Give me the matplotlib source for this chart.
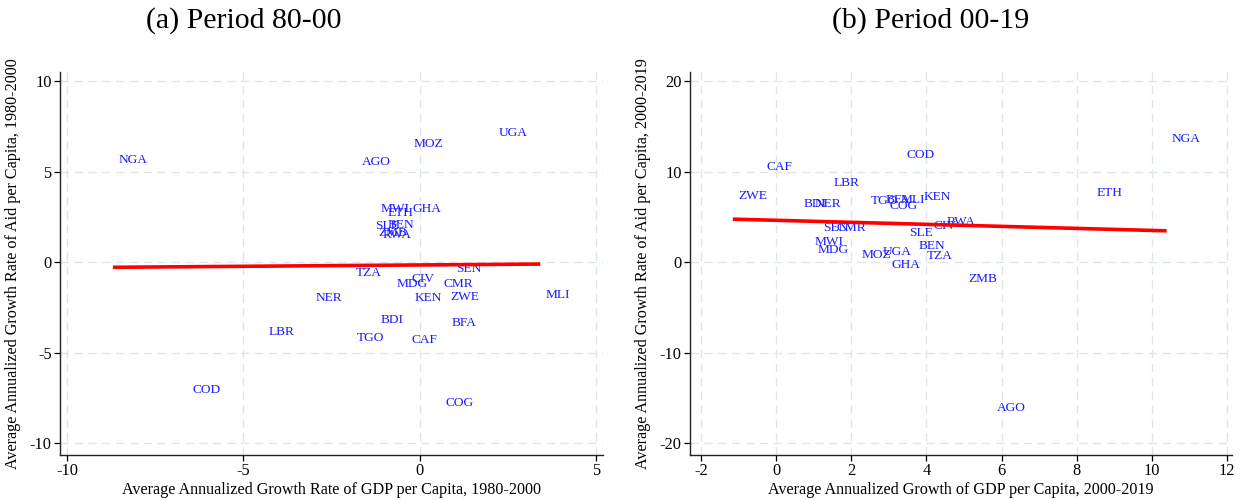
import matplotlib
matplotlib.use("Agg")
import matplotlib.pyplot as plt

plt.rcParams['font.family'] = ['Liberation Serif', 'DejaVu Serif']

# ---- Panel (a) Period 80-00 ----
a_countries = ["NGA", "AGO", "MOZ", "UGA", "MWI", "ETH", "GHA", "SLE", "BEN", "ZMB",
               "RWA", "TZA", "SEN", "CIV", "MDG", "CMR", "NER", "KEN", "ZWE", "MLI",
               "BDI", "LBR", "BFA", "TGO", "CAF", "COD", "COG"]
a_gdp = [-8.70, -1.78, -0.31, 2.10, -1.25, -1.05, -0.34, -1.42, -1.05, -1.33,
         -1.19, -1.95, 0.88, -0.37, -0.79, 0.54, -3.09, -0.28, 0.71, 3.42,
         -1.25, -4.42, 0.76, -1.93, -0.37, -6.60, 0.59]
a_aid = [5.64, 5.52, 6.52, 7.13, 2.93, 2.71, 2.93, 1.99, 2.04, 1.60,
         1.49, -0.61, -0.39, -0.94, -1.22, -1.22, -1.99, -1.99, -1.93, -1.82,
         -3.20, -3.87, -3.37, -4.20, -4.31, -7.07, -7.79]
a_fit_x = [-8.70, 3.42]
a_fit_y = [-0.29, -0.11]
a_xticks = [-10, -5, 0, 5]
a_yticks = [-10, -5, 0, 5, 10]

# ---- Panel (b) Period 00-19 ----
b_countries = ["CAF", "ZWE", "LBR", "COD", "NGA", "ETH", "AGO", "ZMB", "BDI", "NER",
               "TGO", "BFA", "MLI", "COG", "KEN", "SEN", "CMR", "MWI", "MDG", "MOZ",
               "UGA", "GHA", "SLE", "BEN", "TZA", "CIV", "RWA"]
b_gdp = [-0.40, -1.15, 1.38, 3.32, 10.39, 8.38, 5.74, 4.97, 0.585, 0.88,
         2.39, 2.77, 3.16, 2.87, 3.78, 1.12, 1.46, 0.88, 0.96, 2.13,
         2.71, 2.93, 3.40, 3.64, 3.86, 4.04, 4.41]
b_aid = [10.50, 7.29, 8.73, 11.82, 13.59, 7.62, -16.13, -1.88, 6.41, 6.41,
         6.74, 6.85, 6.85, 6.19, 7.18, 3.76, 3.76, 2.21, 1.33, 0.77,
         1.10, -0.33, 3.20, 1.77, 0.66, 3.98, 4.42]
b_fit_x = [-1.15, 10.39]
b_fit_y = [4.75, 3.46]
b_xticks = [-2, 0, 2, 4, 6, 8, 10, 12]
b_yticks = [-20, -10, 0, 10, 20]

fig = plt.figure(figsize=(12.41, 5.0), dpi=100)
ax1 = fig.add_axes([60/1241, 45/500, 543/1241, 383/500])
ax2 = fig.add_axes([690/1241, 45/500, 542/1241, 383/500])

GRID = '#dde6ec'
LABEL_COLOR = '#1a1aff'


def style(ax, xticks, yticks, xlim, ylim, xlabel, ylabel):
    ax.set_xlim(*xlim)
    ax.set_ylim(*ylim)
    ax.set_xticks(xticks)
    ax.set_yticks(yticks)
    ax.set_xticklabels([str(t) for t in xticks])
    ax.set_yticklabels([str(t) for t in yticks])
    for s in ['top', 'right']:
        ax.spines[s].set_visible(False)
    for s in ['left', 'bottom']:
        ax.spines[s].set_linewidth(1.0)
        ax.spines[s].set_color('#222222')
    ax.tick_params(direction='out', length=4, width=0.9, labelsize=11.8, pad=2)
    ax.grid(True, color=GRID, linestyle=(0, (6, 4)), linewidth=1.0)
    ax.set_axisbelow(True)
    ax.set_xlabel(xlabel, fontsize=11.6, labelpad=2)
    ax.set_ylabel(ylabel, fontsize=11.6, labelpad=6)


def draw(ax, names, xs, ys, fx, fy):
    for n, x, y in zip(names, xs, ys):
        ax.annotate(n, (x, y), xytext=(3.8, 0), textcoords='offset points',
                    ha='left', va='center', fontsize=9.6, color=LABEL_COLOR)
    ax.plot(fx, fy, color='red', linewidth=2.6, solid_capstyle='butt', zorder=3)


draw(ax1, a_countries, a_gdp, a_aid, a_fit_x, a_fit_y)
style(ax1, a_xticks, a_yticks, (-10.2, 5.2), (-10.66, 10.5),
      'Average Annualized Growth Rate of GDP per Capita, 1980-2000',
      'Average Annualized Growth Rate of Aid per Capita, 1980-2000')

draw(ax2, b_countries, b_gdp, b_aid, b_fit_x, b_fit_y)
style(ax2, b_xticks, b_yticks, (-2.29, 12.13), (-21.3, 21.0),
      'Average Annualized Growth of GDP per Capita, 2000-2019',
      'Average Annualized Growth Rate of Aid per Capita, 2000-2019')

fig.text(244/1241, 1 - 21/500, '(a) Period 80-00', ha='center', va='center', fontsize=21.5)
fig.text(931/1241, 1 - 21/500, '(b) Period 00-19', ha='center', va='center', fontsize=21.5)

fig.savefig('out.png', dpi=100, facecolor='white')
